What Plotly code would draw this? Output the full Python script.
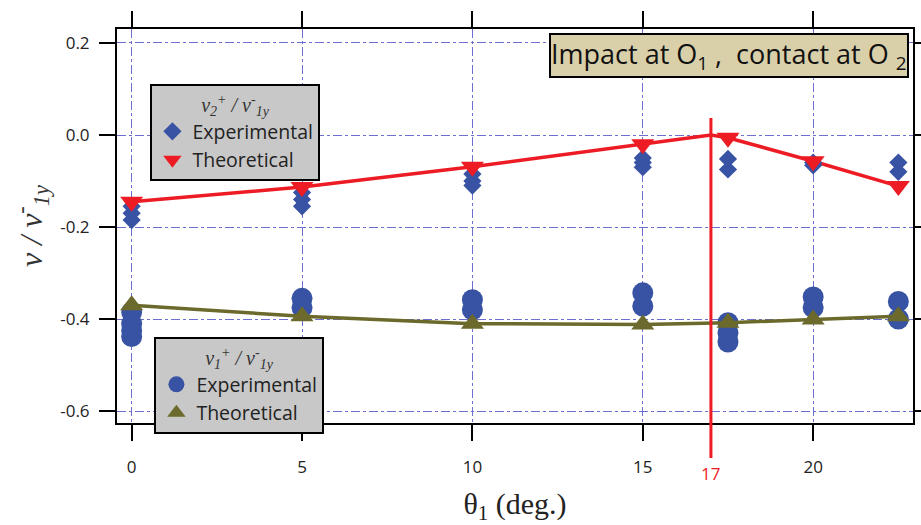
import plotly.graph_objects as go

# ---- data ----
theta_theory = [0, 5, 10, 15, 17, 17.5, 20, 22.5]
v2_theory_line = [-0.145, -0.113, -0.069, -0.020, 0.0, -0.006, -0.057, -0.111]

theta_pts = [0, 5, 10, 15, 17.5, 20, 22.5]
v2_theory = [-0.145, -0.113, -0.069, -0.020, -0.006, -0.057, -0.111]
v1_theory = [-0.370, -0.394, -0.410, -0.412, -0.408, -0.401, -0.394]

v2_exp_theta = [0, 0, 0, 5, 5, 5, 10, 10, 10, 15, 15, 15, 17.5, 17.5, 20, 20, 22.5, 22.5]
v2_exp = [-0.155, -0.170, -0.185, -0.125, -0.140, -0.155, -0.085, -0.100, -0.110,
          -0.050, -0.060, -0.070, -0.052, -0.075, -0.060, -0.066, -0.060, -0.080]

v1_exp_theta = [0, 0, 0, 0, 5, 5, 10, 10, 15, 15, 17.5, 17.5, 17.5, 20, 20, 22.5, 22.5]
v1_exp = [-0.385, -0.410, -0.425, -0.438, -0.355, -0.375, -0.358, -0.380,
          -0.343, -0.372, -0.408, -0.430, -0.450, -0.352, -0.375, -0.362, -0.400]

contact_angle = 17
x_ticks = [0, 5, 10, 15, 20]
y_ticks = [0.2, 0.0, -0.2, -0.4, -0.6]

BLUE = "#3953a4"
RED = "#ed1c24"
OLIVE = "#6b6a2c"
SANS = "Open Sans"
SERIF = "Liberation Serif"

fig = go.Figure()

# v2 group (legend 1)
fig.add_trace(go.Scatter(x=theta_theory, y=v2_theory_line, mode="lines",
                         line=dict(color=RED, width=3.5), showlegend=False, hoverinfo="skip"))
fig.add_trace(go.Scatter(x=v2_exp_theta, y=v2_exp, mode="markers", name="Experimental",
                         marker=dict(symbol="diamond", size=14, color=BLUE), legend="legend"))
fig.add_trace(go.Scatter(x=theta_pts, y=v2_theory, mode="markers", name="Theoretical",
                         marker=dict(symbol="triangle-down", size=20, color=RED), legend="legend"))

# v1 group (legend 2)
fig.add_trace(go.Scatter(x=v1_exp_theta, y=v1_exp, mode="markers", name="Experimental",
                         marker=dict(symbol="circle", size=21, color=BLUE), legend="legend2"))
fig.add_trace(go.Scatter(x=theta_pts, y=v1_theory, mode="lines", showlegend=False,
                         line=dict(color=OLIVE, width=3.5), hoverinfo="skip"))
fig.add_trace(go.Scatter(x=theta_pts, y=v1_theory, mode="markers", name="Theoretical",
                         marker=dict(symbol="triangle-up", size=20, color=OLIVE), legend="legend2"))

# contact-angle marker line
fig.add_shape(type="line", xref="x", yref="paper", x0=contact_angle, x1=contact_angle,
              y0=-0.089, y1=0.774, line=dict(color=RED, width=3), layer="above")
fig.add_annotation(x=contact_angle, xref="x", y=-0.095, yref="paper", yanchor="top",
                   text=str(contact_angle), showarrow=False,
                   font=dict(family=SANS, size=17, color=RED))

# info box
fig.add_annotation(x=0.995, xref="paper", y=0.99, yref="paper", xanchor="right", yanchor="top",
                   text="Impact at O<sub>1</sub> ,  contact at O <sub>2</sub>", showarrow=False,
                   font=dict(family=SANS, size=27, color="#111"),
                   bgcolor="#d9cfa9", bordercolor="#000", borderwidth=2, borderpad=0)

legend_common = dict(bgcolor="#c8c8c8", bordercolor="#000", borderwidth=2,
                     font=dict(family=SANS, size=19.5, color="#222"),
                     xanchor="left", yanchor="top", itemsizing="trace",
                     tracegroupgap=0)
fig.update_layout(
    legend=dict(x=0.042, y=0.86,
                title=dict(text="<i>v<sub>2</sub><sup>+</sup> / v<sup>-</sup><sub>1y</sub></i>",
                           side="top center", font=dict(family=SERIF, size=20, color="#333")),
                **legend_common),
    legend2=dict(x=0.047, y=0.218,
                 title=dict(text="<i>v<sub>1</sub><sup>+</sup> / v<sup>-</sup><sub>1y</sub></i>",
                            side="top center", font=dict(family=SERIF, size=20, color="#333")),
                 **legend_common),
)

axis_common = dict(showline=True, linecolor="#000", linewidth=2, mirror="ticks",
                   ticks="outside", ticklen=16, tickwidth=2, tickcolor="#000",
                   showgrid=True, gridcolor="#6d6fd0", gridwidth=1, griddash="dashdot",
                   zeroline=False, automargin=False,
                   tickfont=dict(family=SANS, size=17, color="#222"))

fig.update_xaxes(range=[-0.43, 22.93], tickvals=x_ticks, ticktext=[str(v) for v in x_ticks],
                 ticklabelstandoff=12,
                 title=dict(text="θ<sub>1</sub> (deg.)", font=dict(family=SERIF, size=30, color="#222"),
                            standoff=17),
                 **axis_common)
fig.update_yaxes(range=[-0.626, 0.2304], tickvals=y_ticks, ticktext=[f"{v:.1f}" for v in y_ticks],
                 ticklabelstandoff=6,
                 title=dict(text="<i>v / v<sup>-</sup><sub>1y</sub></i>",
                            font=dict(family=SERIF, size=32, color="#333"), standoff=8),
                 **axis_common)

fig.update_layout(width=921, height=525, margin=dict(l=117, r=8, t=29, b=102),
                  plot_bgcolor="white", paper_bgcolor="white", showlegend=True)

fig.write_html("out.html", config={"displayModeBar": False},
               post_script="document.body.style.margin='0';document.body.style.overflow='hidden';")
